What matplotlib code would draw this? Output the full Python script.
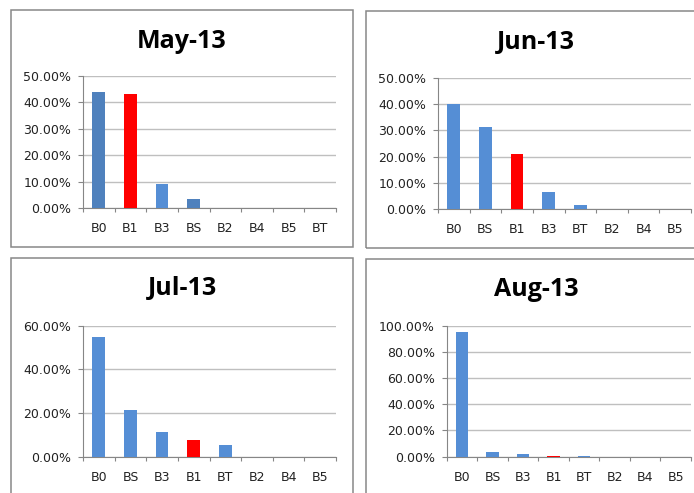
import matplotlib
matplotlib.use("Agg")
import matplotlib.pyplot as plt
from matplotlib.patches import Rectangle
import numpy as np

W, H = 694, 493

# ---- data -------------------------------------------------------------
may_cats = ["B0", "B1", "B3", "BS", "B2", "B4", "B5", "BT"]
may_vals = [43.9, 43.0, 9.1, 3.5, 0.0, 0.0, 0.0, 0.0]

jun_cats = ["B0", "BS", "B1", "B3", "BT", "B2", "B4", "B5"]
jun_vals = [39.9, 31.1, 20.9, 6.7, 1.6, 0.0, 0.0, 0.0]

jul_cats = ["B0", "BS", "B3", "B1", "BT", "B2", "B4", "B5"]
jul_vals = [54.8, 21.2, 11.1, 7.5, 5.3, 0.0, 0.0, 0.0]

aug_cats = ["B0", "BS", "B3", "B1", "BT", "B2", "B4", "B5"]
aug_vals = [94.9, 3.6, 2.0, 0.8, 0.5, 0.0, 0.0, 0.0]

titles = ["May-13", "Jun-13", "Jul-13", "Aug-13"]
y_max = [50, 50, 60, 100]
y_step = [10, 10, 20, 20]

BLUE = "#558ED5"
DARK_BLUE = "#4F81BD"
RED = "#FF0000"
may_colors = [DARK_BLUE, RED, BLUE, DARK_BLUE, BLUE, BLUE, BLUE, BLUE]

GRID = "#BFBFBF"
AXIS = "#868686"
FRAME = "#888888"

TICK_FONT = "DejaVu Sans"
TITLE_FONT = "Open Sans"


def fbox(l, t, r, b):
    """Pixel box (left, top, right, bottom) -> figure fraction rect."""
    return [l / W, 1 - b / H, (r - l) / W, (b - t) / H]


fig = plt.figure(figsize=(W / 100, H / 100), dpi=100)
fig.patch.set_facecolor("white")

# chart frames (l, t, r, b) in pixels
frames = [(11, 10, 353, 247), (366, 11, 708, 248),
          (11, 258, 353, 505), (366, 259, 708, 506)]
for (l, t, r, b) in frames:
    fig.patches.append(Rectangle((l / W, 1 - b / H), (r - l) / W, (b - t) / H,
                                 transform=fig.transFigure, fill=False,
                                 edgecolor=FRAME, linewidth=1.1,
                                 clip_on=False))

# plot areas
plot_boxes = [(83, 76, 336, 208), (438, 77.7, 691, 209.3),
              (83, 325.7, 336, 456.7), (446.7, 325.7, 691, 456.7)]
title_pos = [(182, 41), (536, 42), (182, 288), (536, 290)]

panels = [
    (may_cats, may_vals, may_colors),
    (jun_cats, jun_vals, [RED if c == "B1" else BLUE for c in jun_cats]),
    (jul_cats, jul_vals, [RED if c == "B1" else BLUE for c in jul_cats]),
    (aug_cats, aug_vals, [RED if c == "B1" else BLUE for c in aug_cats]),
]

for i, (cats, vals, cols) in enumerate(panels):
    ax = fig.add_axes(fbox(*plot_boxes[i]))
    x = np.arange(len(cats))
    ax.bar(x, vals, width=0.4, color=cols, zorder=3)
    ax.set_xlim(-0.5, len(cats) - 0.5)
    ax.set_ylim(0, y_max[i])

    yt = np.arange(0, y_max[i] + 0.01, y_step[i])
    ax.set_yticks(yt)
    ax.set_yticklabels([f"{v:.2f}%" for v in yt], fontfamily=TICK_FONT,
                       fontsize=9, color="#222222")
    ax.yaxis.grid(True, color=GRID, linewidth=1.0, zorder=0)
    ax.set_axisbelow(True)

    # category boundaries carry the tick marks, centres carry the labels
    ax.set_xticks(np.arange(-0.5, len(cats), 1.0))
    ax.set_xticklabels([])
    ax.set_xticks(x, minor=True)
    ax.set_xticklabels(cats, minor=True, fontfamily=TICK_FONT, fontsize=9,
                       color="#222222")
    ax.tick_params(axis="x", which="major", length=3, width=0.8,
                   color=AXIS, direction="out")
    ax.tick_params(axis="x", which="minor", length=0, pad=10)
    ax.tick_params(axis="y", which="major", length=3.6, width=0.8,
                   color=AXIS, pad=5)

    for s in ("top", "right"):
        ax.spines[s].set_visible(False)
    for s in ("left", "bottom"):
        ax.spines[s].set_color(AXIS)
        ax.spines[s].set_linewidth(0.8)
    ax.set_facecolor("none")

    tx, ty = title_pos[i]
    fig.text(tx / W, 1 - ty / H, titles[i], ha="center", va="center",
             fontfamily=TITLE_FONT, fontweight="bold", fontsize=18,
             color="black")

fig.savefig("out.png", dpi=100)
